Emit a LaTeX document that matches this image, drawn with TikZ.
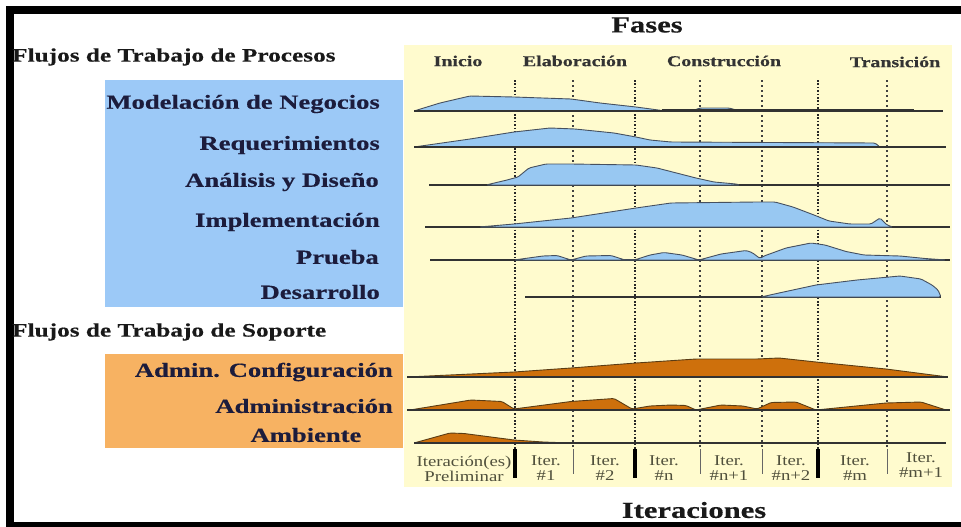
\documentclass[tikz,border=0pt]{standalone}
\usepackage{fontspec}
\setmainfont{Liberation Serif}
\newfontfamily\widebold{Liberation Serif}[FakeStretch=1.33,FakeBold=0.5]
\newfontfamily\widereg{Liberation Serif}[FakeStretch=1.25]
\definecolor{panel}{RGB}{255,251,206}
\definecolor{bluebox}{RGB}{156,201,247}
\definecolor{orangebox}{RGB}{247,178,98}
\definecolor{bluef}{RGB}{152,200,242}
\definecolor{bluel}{RGB}{70,80,95}
\definecolor{orangef}{RGB}{206,112,12}
\definecolor{orangel}{RGB}{90,60,20}
\definecolor{labc}{RGB}{28,28,60}
\definecolor{basec}{RGB}{50,50,50}
\definecolor{itc}{RGB}{80,80,60}
\tikzset{
  lbl/.style={font=\widebold\bfseries\fontsize{20}{22}\selectfont, text=labc, inner sep=0pt},
  head/.style={font=\widebold\bfseries\fontsize{19}{21}\selectfont, text=black!90, inner sep=0pt, anchor=west},
  phase/.style={font=\widebold\bfseries\fontsize{15}{17}\selectfont, text=black!80, inner sep=0pt},
  big/.style={font=\widebold\bfseries\fontsize{23}{25}\selectfont, text=black!90, inner sep=0pt},
  iterlbl/.style={font=\widereg\fontsize{15}{15}\selectfont, text=itc, inner sep=0pt, align=center},
  hump/.style={fill=bluef, draw=bluel, line width=0.9pt, line join=round, rounded corners=1.5pt},
  ohump/.style={fill=orangef, draw=orangel, line width=0.9pt, line join=round, rounded corners=1.5pt},
  baseln/.style={draw=basec, line width=1.3pt},
  divthick/.style={draw=black!85, line width=2.4pt, dash pattern=on 1.6pt off 1.8pt},
  divthin/.style={draw=black!75, line width=1.1pt, dash pattern=on 2pt off 3pt},
  septhick/.style={draw=black, line width=3.5pt},
  septhin/.style={draw=black!60, line width=1pt}
}
\begin{document}
\begin{tikzpicture}[x=1pt,y=-1pt]
\useasboundingbox (0,0) rectangle (961,527);
\fill[white] (0,0) rectangle (961,527);
% frame
\fill[black] (6,6) rectangle (961,14.5);
\fill[black] (6,6) rectangle (14,527);
\fill[black] (6,522) rectangle (961,527);
% panels
\fill[panel] (404,45) rectangle (952,487);
\fill[bluebox] (105,80) rectangle (403,307);
\fill[orangebox] (105,354) rectangle (403,448);

% titles
\node[big] (fases) at (647,25) {Fases};
\node[big] (iteraciones) at (694,510) {Iteraciones};
\node[head] (hproc) at (12,57) {Flujos de Trabajo de Procesos};
\node[head] (hsop) at (12,332) {Flujos de Trabajo de Soporte};

% phases
\node[phase] (inicio) at (458,61) {Inicio};
\node[phase] (elab) at (575,61) {Elaboración};
\node[phase] (constr) at (724,61) {Construcción};
\node[phase] (trans) at (895,62) {Transición};

% workflow labels
\node[lbl, anchor=east] (l1) at (380,104) {Modelación de Negocios};
\node[lbl, anchor=east] (l2) at (380,145) {Requerimientos};
\node[lbl, anchor=east] (l3) at (379,182) {Análisis y Diseño};
\node[lbl, anchor=east] (l4) at (380,222) {Implementación};
\node[lbl, anchor=east] (l5) at (379,257) {Prueba};
\node[lbl, anchor=east] (l6) at (380,292) {Desarrollo};
\node[lbl, anchor=east] (l7) at (393,372) {Admin. Configuración};
\node[lbl, anchor=east] (l8) at (393,406) {Administración};
\node[lbl] (l9) at (306,435) {Ambiente};

% dividers
\foreach \x in {515,635,818} \draw[divthick] (\x,80) -- (\x,449);
\foreach \x in {573,700,762,887} \draw[divthin] (\x,80) -- (\x,449);

% row 1 Modelación
\filldraw[hump] (414,111) -- (440,103) -- (470,96) -- (514,97) -- (571,99) -- (600,103) -- (636,107) -- (662,110.5) -- (693,110.5) -- (700,108) -- (729,108) -- (740,111) -- cycle;
\draw[baseln] (414,111) -- (943,111);
\draw[draw=basec, line width=2.2pt] (662,110.5) -- (914,110.5);

% row 2 Requerimientos
\filldraw[hump] (414,147) -- (470,139) -- (514,132) -- (550,128) -- (575,129) -- (614,133) -- (636,137) -- (650,140) -- (671,142) -- (875,143) -- (880,147) -- cycle;
\draw[baseln] (414,147) -- (946,147);

% row 3 Análisis
\draw[baseln] (429,185) -- (950,185);
\filldraw[hump] (486,185) -- (507,180) -- (518,177) -- (529,168) -- (546,164) -- (571,164) -- (636,165) -- (657,168) -- (696,178) -- (714,182) -- (736,184) -- (740,185) -- cycle;

% row 4 Implementación
\draw[baseln] (425,227) -- (950,227);
\filldraw[hump] (479,227) -- (514,224) -- (571,218) -- (636,208) -- (671,203) -- (757,202) -- (775,202) -- (793,207) -- (814,215) -- (829,221) -- (850,224) -- (871,224) -- (880,218) -- (887,225) -- (893,227) -- cycle;

% row 5 Prueba
\draw[baseln] (430,260) -- (950,260);
\filldraw[hump] (514,260) -- (543,256) -- (557,255.5) -- (571,260) -- (586,256) -- (611,255.5) -- (625,260) -- (636,259.5) -- (650,255) -- (664,252.5) -- (682,255) -- (699,260) -- (721,254) -- (746,250.5) -- (752,252.5) -- (760,258.5) -- (764,256) -- (786,248) -- (811,243) -- (825,245) -- (846,251.5) -- (864,255) -- (900,256) -- (925,258.5) -- (946,260) -- cycle;

% row 6 Desarrollo
\draw[baseln] (525,297) -- (941,297);
\filldraw[hump] (761,297) -- (779,293) -- (816,285) -- (857,280) -- (900,276) -- (921,279) -- (932,285) -- (938,290) -- (941,297) -- cycle;

% row 7 Admin. Configuración
\filldraw[ohump] (407,377) -- (514,372) -- (571,368) -- (636,363) -- (696,359) -- (757,359) -- (779,358) -- (816,362) -- (886,369) -- (948,377) -- cycle;
\draw[baseln] (407,377) -- (948,377);

% row 8 Administración
\filldraw[ohump] (410,410) -- (471,400) -- (502,401.5) -- (514,409) -- (571,401.5) -- (614,398.5) -- (632,409) -- (650,406) -- (671,405) -- (686,405.5) -- (696,410) -- (721,405) -- (743,406) -- (757,409) -- (771,402.5) -- (796,402) -- (811,408) -- (816,410) -- (886,403) -- (921,402) -- (946,410) -- cycle;
\draw[baseln] (407,410) -- (950,410);

% row 9 Ambiente
\filldraw[ohump] (414,443) -- (450,433) -- (464,433.5) -- (514,440) -- (543,442) -- (571,443) -- cycle;
\draw[baseln] (414,443) -- (946,443);

% iteration separators
\foreach \x in {515,635,818} \draw[septhick] (\x,449) -- (\x,478);
\foreach \x in {573,700,762,887} \draw[septhin] (\x,449) -- (\x,474);

% iteration labels
\node[iterlbl] (i0) at (464,468.5) {Iteración(es)\\Preliminar};
\node[iterlbl] (i1) at (546,468.5) {Iter.\\\#1};
\node[iterlbl] (i2) at (605,468.5) {Iter.\\\#2};
\node[iterlbl] (i3) at (664,468.5) {Iter.\\\#n};
\node[iterlbl] (i4) at (729,468.5) {Iter.\\\#n+1};
\node[iterlbl] (i5) at (791,468.5) {Iter.\\\#n+2};
\node[iterlbl] (i6) at (855,468.5) {Iter.\\\#m};
\node[iterlbl] (i7) at (921,465) {Iter.\\\#m+1};
\end{tikzpicture}
\end{document}
